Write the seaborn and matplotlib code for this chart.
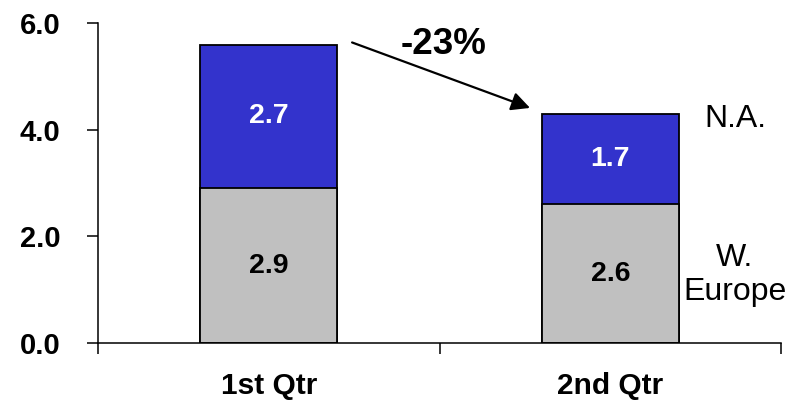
import matplotlib
matplotlib.use("Agg")
import matplotlib.pyplot as plt
import seaborn as sns
import pandas as pd

# Quarterly values by region
quarters = ["1st Qtr", "2nd Qtr"]
w_europe = [2.9, 2.6]
north_america = [2.7, 1.7]
region_names = ["W.\nEurope", "N.A."]
y_ticks = [0.0, 2.0, 4.0, 6.0]

sns.set_theme(style="white")
plt.rcParams["font.family"] = ["Liberation Sans", "DejaVu Sans"]
plt.rcParams["text.color"] = "black"
plt.rcParams["xtick.color"] = "black"
plt.rcParams["ytick.color"] = "black"

totals = [a + b for a, b in zip(w_europe, north_america)]
df = pd.DataFrame({"quarter": quarters, "weu": w_europe, "na": north_america, "total": totals})

fig = plt.figure(figsize=(7.91, 4.03), dpi=100)
ax = fig.add_axes([0.1239, 0.1496, 0.8635, 0.7926])

bar_kw = dict(width=0.4, edgecolor="black", linewidth=1.3, ax=ax, zorder=2)
# stacked: total (blue top segment) first, then the W. Europe base over it
sns.barplot(data=df, x="quarter", y="total", color="#3333CC", saturation=1, **bar_kw)
sns.barplot(data=df, x="quarter", y="weu", color="#C0C0C0", saturation=1, **bar_kw)

ax.set_xlim(-0.5, 1.5)
ax.set_ylim(0, 6)
ax.set_xlabel("")
ax.set_ylabel("")

# y axis
ax.set_yticks(y_ticks)
ax.set_yticklabels([f"{v:.1f}" for v in y_ticks], fontsize=21, fontweight="bold", color="black")
ax.tick_params(axis="y", direction="out", length=8, width=1.1, color="black", pad=19, left=True)

# x axis: tick marks on category boundaries, labels at category centres
ax.set_xticks([-0.5, 0.5, 1.5])
ax.set_xticklabels([])
ax.set_xticks([0, 1], minor=True)
ax.set_xticklabels(quarters, minor=True, fontsize=21.5, fontweight="bold", color="black")
ax.tick_params(axis="x", which="major", direction="out", length=8, width=1.1, color="black", bottom=True)
ax.tick_params(axis="x", which="minor", length=0, pad=21, bottom=True)

for side in ["top", "right"]:
    ax.spines[side].set_visible(False)
for side in ["left", "bottom"]:
    ax.spines[side].set_color("black")
    ax.spines[side].set_linewidth(1.1)
ax.grid(False)

# segment value labels
for i in range(len(quarters)):
    ax.text(i, w_europe[i] / 2, f"{w_europe[i]:.1f}", ha="center", va="center",
            fontsize=20.5, fontweight="bold", color="black", zorder=3)
    ax.text(i, w_europe[i] + north_america[i] / 2, f"{north_america[i]:.1f}",
            ha="center", va="center", fontsize=20.5, fontweight="bold", color="white", zorder=3)

# region labels on the right
ax.text(1.365, w_europe[1] * 0.49, region_names[0], ha="center", va="center",
        fontsize=23, color="black", linespacing=1.2)
ax.text(1.365, w_europe[1] + north_america[1] * 0.94, region_names[1], ha="center", va="center",
        fontsize=23, color="black")

# change arrow between quarter totals
change = (totals[1] - totals[0]) / totals[0] * 100
ax.annotate("", xy=(0.765, totals[1] + 0.11), xytext=(0.244, totals[0] + 0.04),
            arrowprops=dict(arrowstyle="-|>", mutation_scale=28, lw=1.6, color="black",
                            shrinkA=0, shrinkB=0), zorder=4)
ax.text(0.513, totals[0] + 0.01, f"{change:.0f}%", ha="center", va="center",
        fontsize=26.5, fontweight="bold", color="black")

fig.savefig("out.png", dpi=100)
